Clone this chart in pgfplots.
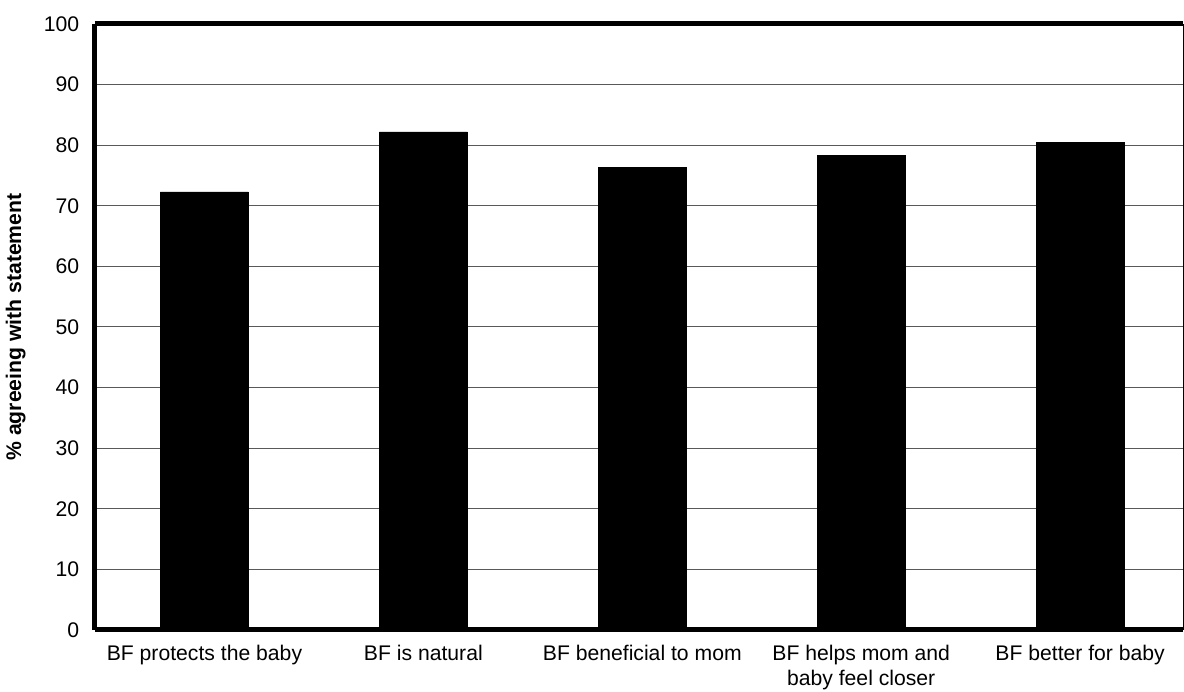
\documentclass[border=0pt]{standalone}
\usepackage{fontspec}
\setmainfont{Liberation Sans}
\usepackage{pgfplots}
\pgfplotsset{compat=1.18}
\begin{document}
\begin{tikzpicture}
\useasboundingbox (-57pt,-37.2pt) rectangle (653.4pt,378pt);
\begin{axis}[
  at={(0,0)}, anchor=south west,
  scale only axis,
  width=652.8pt, height=363.6pt,
  ybar, bar width=52.8pt,
  ymin=0, ymax=100,
  xmin=-0.5, xmax=4.47,
  ytick={0,10,...,100},
  xtick={0,1,2,3,4},
  xticklabels={{BF protects the baby},{BF is natural},{BF beneficial to mom},{BF helps mom and\\baby feel closer},{BF better for baby}},
  xticklabel style={align=center, font=\fontsize{12.7}{15}\selectfont, yshift=-1pt},
  yticklabel style={font=\fontsize{12.7}{15}\selectfont, xshift=-6pt},
  /pgf/number format/assume math mode=true,
  major x tick style={draw=none},
  extra x ticks={0.5,1.5,2.5,3.5},
  extra x tick labels={},
  extra x tick style={grid=none, major tick length=4pt, tick align=outside, tick style={draw=black, line width=0.8pt}},
  y tick style={draw=none},
  ymajorgrids,
  major grid style={draw=black!65, line width=0.6pt},
  separate axis lines,
  x axis line style={line width=3pt},
  y axis line style={line width=0.6pt},
  ylabel={\% agreeing with statement},
  ylabel style={font=\bfseries\fontsize{12.7}{15}\selectfont, yshift=4pt},
  clip=false,
]
\addplot[fill=black, draw=black] coordinates {(0,72.3) (1,82.2) (2,76.4) (3,78.3) (4,80.4)};
\draw[line width=3pt] (rel axis cs:0,0) -- (rel axis cs:0,1);
\end{axis}
\end{tikzpicture}
\end{document}
